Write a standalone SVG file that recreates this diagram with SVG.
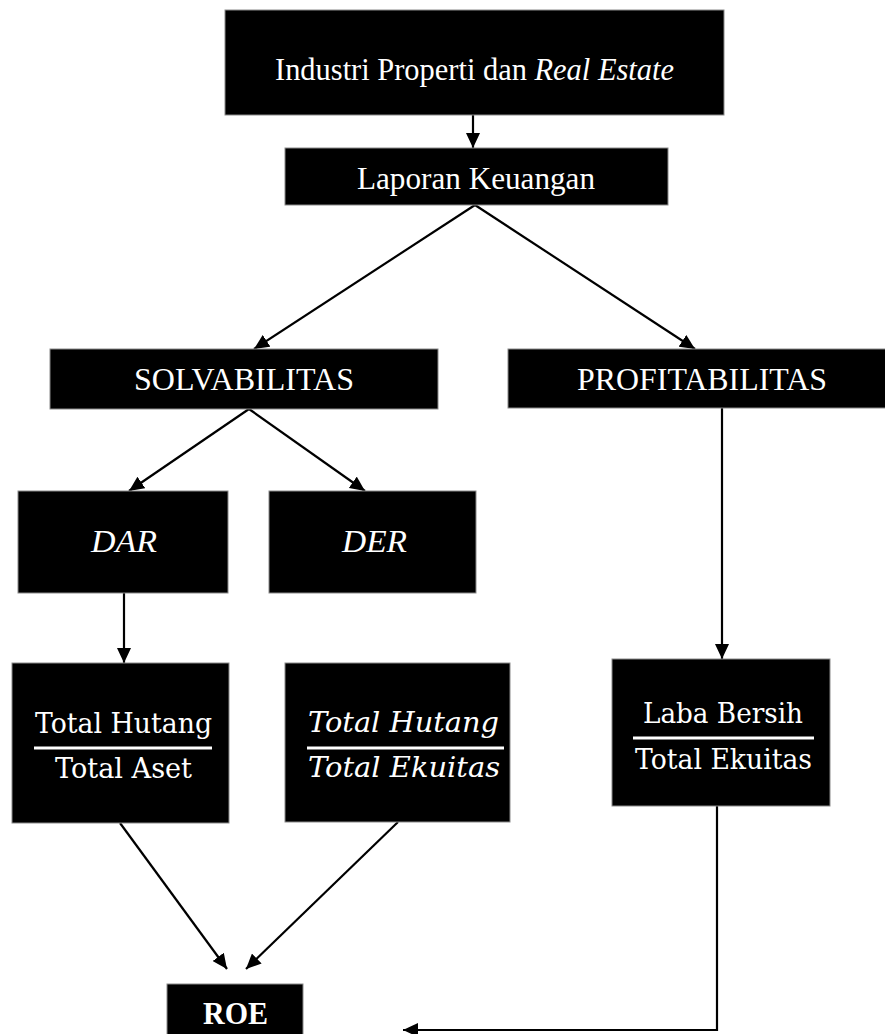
<svg xmlns="http://www.w3.org/2000/svg" width="885" height="1034" viewBox="0 0 885 1034">
<style>
.box{fill:#000;stroke:#8a8a8a;stroke-width:1}
.t{fill:#fff;font-family:"Liberation Serif","Times New Roman",serif;font-size:31px}
.f{fill:#fff;font-family:"DejaVu Serif","Liberation Serif",serif;font-size:28px}
.bar{stroke:#fff;stroke-width:3}
.c{fill:none;stroke:#000;stroke-width:2.2;marker-end:url(#ah)}
</style>
<defs>
<marker id="ah" markerUnits="userSpaceOnUse" markerWidth="16" markerHeight="14" refX="15" refY="7" orient="auto">
<path d="M0,0 L15,7 L0,14 z" fill="#000"/>
</marker>
</defs>
<rect width="885" height="1034" fill="#fff"/>
<g id="connectors">
<path class="c" d="M473,115 L473,148"/>
<path class="c" d="M475,205 L254,349"/>
<path class="c" d="M475,205 L695,349"/>
<path class="c" d="M249,409 L129,491"/>
<path class="c" d="M249,409 L365,491"/>
<path class="c" d="M124,593 L124,663"/>
<path class="c" d="M722,408 L722,659"/>
<path class="c" d="M120,823 L227,969"/>
<path class="c" d="M398,822 L246,969"/>
<path class="c" d="M717,806 L717,1030 L403,1030"/>
</g>
<g id="industri">
<rect class="box" x="225" y="10" width="499" height="105"/>
<text class="t" x="275" y="80" textLength="399" lengthAdjust="spacingAndGlyphs">Industri Properti dan <tspan font-style="italic">Real Estate</tspan></text>
</g>
<g id="laporan">
<rect class="box" x="285" y="148" width="383" height="57"/>
<text class="t" x="357" y="189" textLength="238" lengthAdjust="spacingAndGlyphs">Laporan Keuangan</text>
</g>
<g id="solvabilitas">
<rect class="box" x="50" y="349" width="388" height="60"/>
<text class="t" x="134" y="390" textLength="220" lengthAdjust="spacingAndGlyphs">SOLVABILITAS</text>
</g>
<g id="profitabilitas">
<rect class="box" x="508" y="349" width="380" height="59"/>
<text class="t" x="577" y="390" textLength="250" lengthAdjust="spacingAndGlyphs">PROFITABILITAS</text>
</g>
<g id="dar">
<rect class="box" x="18" y="491" width="210" height="102"/>
<text class="t" x="91" y="552" font-style="italic" textLength="66" lengthAdjust="spacingAndGlyphs">DAR</text>
</g>
<g id="der">
<rect class="box" x="269" y="491" width="207" height="102"/>
<text class="t" x="342" y="552" font-style="italic" textLength="65" lengthAdjust="spacingAndGlyphs">DER</text>
</g>
<g id="rumus-dar">
<rect class="box" x="12" y="663" width="217" height="160"/>
<text class="f" x="35" y="733" textLength="177" lengthAdjust="spacingAndGlyphs">Total Hutang</text>
<line class="bar" x1="34" y1="748" x2="212" y2="748"/>
<text class="f" x="55" y="778" textLength="137" lengthAdjust="spacingAndGlyphs">Total Aset</text>
</g>
<g id="rumus-der">
<rect class="box" x="285" y="663" width="225" height="159"/>
<text class="f" x="308" y="732" font-style="italic" textLength="191" lengthAdjust="spacingAndGlyphs">Total Hutang</text>
<line class="bar" x1="307" y1="748" x2="504" y2="748"/>
<text class="f" x="308" y="777" font-style="italic" textLength="192" lengthAdjust="spacingAndGlyphs">Total Ekuitas</text>
</g>
<g id="rumus-roe">
<rect class="box" x="612" y="659" width="218" height="147"/>
<text class="f" x="643" y="723" textLength="160" lengthAdjust="spacingAndGlyphs">Laba Bersih</text>
<line class="bar" x1="633" y1="738" x2="814" y2="738"/>
<text class="f" x="635" y="769" textLength="177" lengthAdjust="spacingAndGlyphs">Total Ekuitas</text>
</g>
<g id="roe">
<rect class="box" x="167" y="984" width="136" height="60"/>
<text class="t" x="203" y="1024" font-weight="bold" font-size="30" textLength="65" lengthAdjust="spacingAndGlyphs">ROE</text>
</g>
</svg>
